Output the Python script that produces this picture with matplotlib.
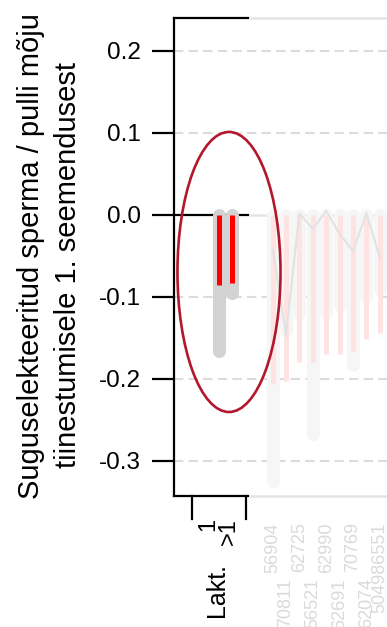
"""Effect of sexed semen / bull on conception at first insemination.

Lactation panel is highlighted; the bull panel to the right is faded out.
"""
import matplotlib
matplotlib.use("Agg")
import matplotlib.pyplot as plt
from matplotlib.patches import Ellipse
from matplotlib.transforms import blended_transform_factory

plt.rcParams["font.family"] = ["Liberation Sans", "DejaVu Sans"]

# lactation panel
lakt_labels = ["1", ">1"]
lakt_gray = [-0.166, -0.095]
lakt_red = [-0.085, -0.083]

# faded bull panel
bull_labels = ["56904", "70811", "62725", "56521", "62990",
               "62691", "70769", "62074", "504986551"]
bull_gray = [-0.324, -0.14, -0.12, -0.267, -0.12, -0.11, -0.183, -0.10, -0.09]
bull_red = [-0.206, -0.203, -0.179, -0.179, -0.170, -0.170, -0.166, -0.151, -0.144]
bull_line = [-0.041, -0.146, 0.002, -0.017, 0.005, -0.023, -0.044, 0.002, -0.052]

ytick_vals = [0.2, 0.1, 0.0, -0.1, -0.2, -0.3]
ytick_labels = ["0.2", "0.1", "0.0", "-0.1", "-0.2", "-0.3"]

ylabel_lines = ["Suguselekteeritud sperma / pulli mõju",
                "tiinestumisele 1. seemendusest"]

W, H = 387, 627
fig = plt.figure(figsize=(W / 100, H / 100), dpi=100)

# axes spans px 174..387 horizontally, 18..496 vertically
ax = fig.add_axes([174 / W, 1 - 496 / H, (W - 174) / W, (496 - 18) / H])
ax.set_xlim(-2.358, 13.537)
ax.set_ylim(-0.3427, 0.2402)

for s in ["top", "right", "bottom"]:
    ax.spines[s].set_visible(False)
ax.spines["left"].set_linewidth(1.6)
ax.set_xticks([])
ax.set_yticks(ytick_vals)
ax.set_yticklabels(ytick_labels)
ax.tick_params(axis="y", length=16, width=1.6, pad=8, labelsize=17.5)

# dashed grid
for v in ytick_vals:
    if v != 0.0:
        ax.axhline(v, color="#dcdcdc", lw=1.5, ls=(0, (4.5, 2.5)), zorder=0)

DARK_END = 3.16
FADE_START = 3.39
XMAX = 13.537
y0, y1 = ax.get_ylim()

# panel frame: black for lactation, light gray for faded part
for yy in (y0, y1):
    ax.plot([-2.358, DARK_END], [yy, yy], color="black", lw=1.6, clip_on=False, zorder=4)
    ax.plot([FADE_START, XMAX], [yy, yy], color="#e4e4e4", lw=1.8, clip_on=False, zorder=4)
ax.plot([-2.358, DARK_END], [0, 0], color="black", lw=1.6, zorder=3)
ax.plot([FADE_START, XMAX], [0, 0], color="#e4e4e4", lw=1.8, zorder=1)

# faded bulls
bull_x = list(range(5, 5 + len(bull_labels)))
for x, g in zip(bull_x, bull_gray):
    ax.plot([x, x], [0, g], color="#f6f6f6", lw=9.4, solid_capstyle="round", zorder=1)
for x, r in zip(bull_x, bull_red):
    ax.plot([x, x], [0, r], color="#ffe3e3", lw=3.6, solid_capstyle="butt", zorder=2)
ax.plot(bull_x, bull_line, color="#e2e2e2", lw=1.5, zorder=2)

# lactation bars
lakt_x = [1, 2]
for x, g in zip(lakt_x, lakt_gray):
    ax.plot([x, x], [0, g], color="#d3d3d3", lw=9.4, solid_capstyle="round", zorder=3)
for x, r in zip(lakt_x, lakt_red):
    ax.plot([x, x], [0, r], color="#ff0000", lw=3.6, solid_capstyle="butt", zorder=4)

# highlight ellipse
ax.add_patch(Ellipse((1.746, -0.0695), 7.69, 0.3415, fill=False,
                     edgecolor="#b2182b", lw=1.9, zorder=5))

# bracket under lactation panel
trans = blended_transform_factory(ax.transData, ax.transAxes)
for bx in (-1.01, 3.01):
    ax.plot([bx, bx], [0, -0.048], color="black", lw=1.6, transform=trans, clip_on=False)

# lactation tick labels
for x, lab in zip([0.2, 1.75], lakt_labels):
    ax.text(x, -0.046, lab, rotation=90, ha="center", va="top", fontsize=17,
            transform=trans, clip_on=False)

# faded bull labels, staggered in two rows
for i, (x, lab) in enumerate(zip(bull_x, bull_labels)):
    yy = -0.055 if i % 2 == 0 else -0.172
    ax.text(x, yy, lab, rotation=90, ha="center", va="top", fontsize=13,
            color="#dadada", transform=trans, clip_on=False)

fig.text(217 / W, 1 - 590 / H, "Lakt.", rotation=90, ha="center", va="center",
         fontsize=18)

# y label, two lines placed separately
fig.text(31 / W, 1 - 256 / H, ylabel_lines[0], rotation=90,
         ha="center", va="center", fontsize=21)
fig.text(68 / W, 1 - 265 / H, ylabel_lines[1], rotation=90,
         ha="center", va="center", fontsize=21)

fig.savefig("out.png", dpi=100)
